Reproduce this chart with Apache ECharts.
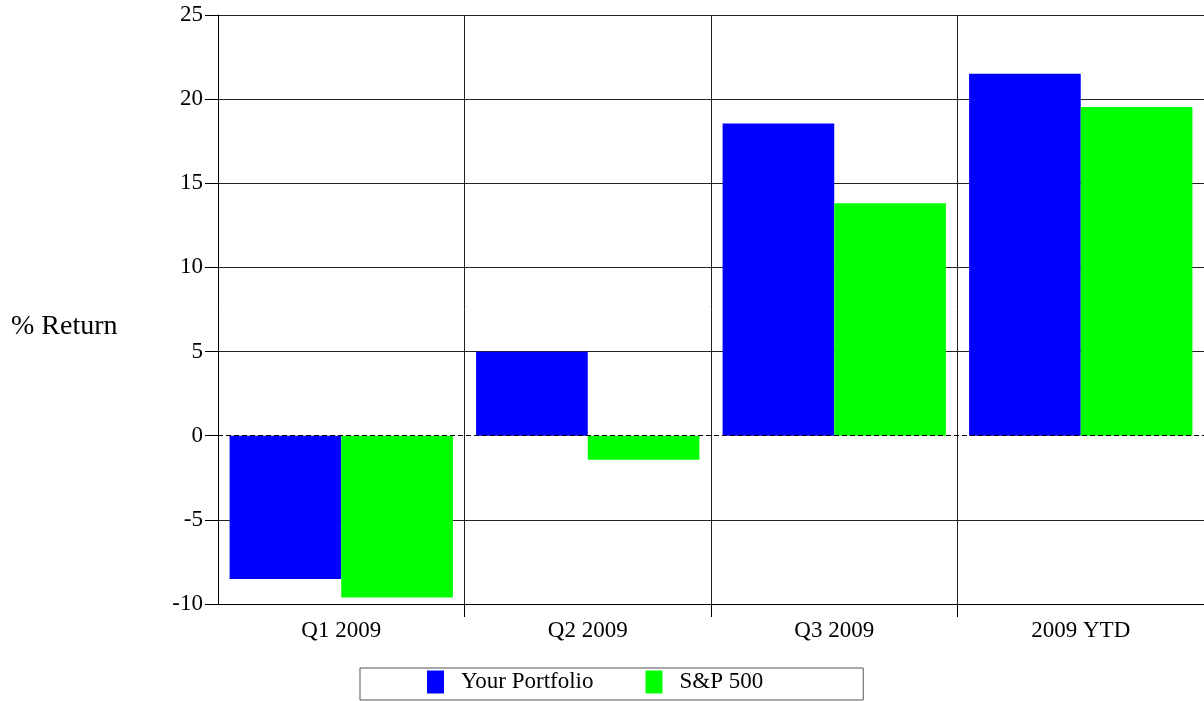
<!DOCTYPE html>
<html>
<head>
<meta charset="utf-8">
<script src="https://cdn.jsdelivr.net/npm/echarts@6/dist/echarts.min.js"></script>
<style>
html,body{margin:0;padding:0;background:#fff;}
#c{width:1204px;height:701px;}
</style>
</head>
<body>
<div id="c"></div>
<script>
var categories = ['Q1 2009', 'Q2 2009', 'Q3 2009', '2009 YTD'];
var portfolio = [-8.52, 4.99, 18.56, 21.51];
var sp500 = [-9.62, -1.43, 13.81, 19.53];
var seriesNames = ['Your Portfolio', 'S&P 500'];
var yMin = -10, yMax = 25, yStep = 5;

var FONT = '"Liberation Serif", "Times New Roman", serif';
var gridColors = [];
for (var v = yMin; v <= yMax; v += yStep) gridColors.push(v === 0 ? 'rgba(0,0,0,0)' : '#222');

var chart = echarts.init(document.getElementById('c'), null, {renderer: 'canvas'});
chart.setOption({
  animation: false,
  backgroundColor: '#fff',
  title: {
    text: '% Return', left: 11, top: 313, padding: 0,
    textStyle: {fontFamily: FONT, fontSize: 28, fontWeight: 'normal', color: '#000'}
  },
  grid: {left: 218, right: 0, top: 15, bottom: 97},
  legend: {
    left: 360, top: 668,
    data: seriesNames,
    icon: 'rect', itemWidth: 17, itemHeight: 23, itemGap: 52,
    borderColor: '#555', borderWidth: 1,
    padding: [2, 100, 6, 67],
    textStyle: {fontFamily: FONT, fontSize: 23, color: '#000', padding: [0, 0, 0, 12], lineHeight: 24}
  },
  xAxis: {
    type: 'category', data: categories,
    boundaryGap: true,
    axisLine: {show: true, onZero: false, lineStyle: {color: '#000', width: 1}},
    axisTick: {show: true, interval: function (i) { return i > 0; }, length: 13, alignWithLabel: false, lineStyle: {color: '#000', width: 1}},
    axisLabel: {fontFamily: FONT, fontSize: 23, color: '#000', margin: 15},
    splitLine: {show: true, lineStyle: {color: '#222', width: 1}}
  },
  yAxis: {
    type: 'value', min: yMin, max: yMax, interval: yStep,
    axisLine: {show: true, lineStyle: {color: '#000', width: 1}},
    axisTick: {show: true, length: 13, lineStyle: {color: '#000'}},
    axisLabel: {fontFamily: FONT, fontSize: 23, color: '#000', margin: 15},
    splitLine: {show: true, lineStyle: {color: gridColors, width: 1}}
  },
  series: [
    {
      name: seriesNames[0], type: 'bar', data: portfolio,
      barGap: '0%', barCategoryGap: '9.4%',
      itemStyle: {color: '#0000ff'}
    },
    {
      name: seriesNames[1], type: 'bar', data: sp500,
      barGap: '0%', barCategoryGap: '9.4%',
      itemStyle: {color: '#00ff00'}
    },
    {
      name: 'zero', type: 'line', data: [], z: 20, silent: true,
      markLine: {
        silent: true, symbol: 'none',
        label: {show: false},
        lineStyle: {color: '#000', type: [5, 3], width: 1},
        data: [{yAxis: 0}]
      }
    }
  ]
});
</script>
</body>
</html>
